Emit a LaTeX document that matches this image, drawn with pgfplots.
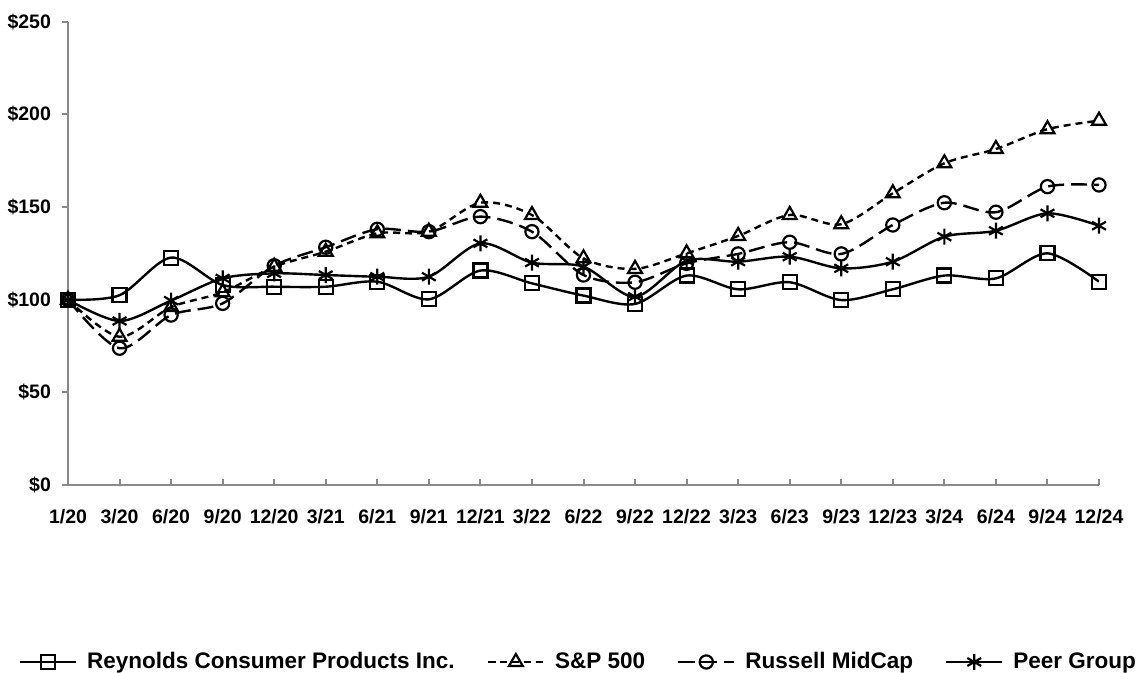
\documentclass[border=0pt]{standalone}
\usepackage{pgfplots}
\pgfplotsset{compat=1.18}
\usepackage{fontspec}
\setmainfont{Liberation Sans}
\definecolor{axgray}{RGB}{137,137,137}
\begin{document}
\begin{tikzpicture}
\useasboundingbox (-34pt,-94pt) rectangle (539pt,242.5pt);
\begin{axis}[
  at={(0pt,0pt)}, anchor=south west,
  scale only axis,
  width=515.5pt, height=231.65pt,
  xmin=0, xmax=20, ymin=0, ymax=250,
  axis x line*=bottom, axis y line*=left,
  axis line style={axgray, line width=1.3pt, -},
  xtick={0,...,20},
  xticklabels={1/20,3/20,6/20,9/20,12/20,3/21,6/21,9/21,12/21,3/22,6/22,9/22,12/22,3/23,6/23,9/23,12/23,3/24,6/24,9/24,12/24},
  ytick={0,50,100,150,200,250},
  yticklabels={\$0,\$50,\$100,\$150,\$200,\$250},
  major tick length=3pt,
  xtick align=inside, ytick align=outside,
  tick style={axgray, line width=1pt},
  tick label style={font=\fontsize{9.75}{11}\selectfont\bfseries, black},
  xticklabel style={yshift=-8.5pt},
  yticklabel style={xshift=-2pt},
  legend columns=4,
  legend style={at={(0.494,-0.382)}, anchor=center, draw=none, fill=none,
    font=\fontsize{11.25}{13}\selectfont\bfseries,
    /tikz/every even column/.append style={column sep=16pt},
    /tikz/every odd column/.append style={column sep=5pt},
    nodes={inner sep=0pt, anchor=west}},
  legend image code/.code={\draw[mark repeat=2,mark phase=2,#1] plot coordinates {(0pt,0pt)(14pt,0pt)(28pt,0pt)};},
  every axis plot/.append style={black, line width=1.2pt, smooth, tension=0.5, mark options={solid, fill=none, line width=1.1pt}},
]
\addplot[mark=square, mark size=3.5pt] coordinates {
(0,100)(1,102.4)(2,122.7)(3,107.9)(4,107)(5,107)(6,109.7)(7,100.2)(8,115.7)(9,108.8)(10,102.2)
(11,97.7)(12,113)(13,105.6)(14,109.4)(15,99.8)(16,105.6)(17,113)(18,111.5)(19,125)(20,109.7)};
\addlegendentry{Reynolds Consumer Products Inc.}
\addplot[mark=triangle, mark size=4pt, dash pattern=on 3.5pt off 2.5pt] coordinates {
(0,100)(1,80)(2,96)(3,104)(4,117.8)(5,125.9)(6,135.8)(7,136.7)(8,152.3)(9,145.7)(10,122.3)
(11,116.6)(12,125)(13,134.4)(14,145.7)(15,140.7)(16,157.4)(17,173.6)(18,181.3)(19,192)(20,196.6)};
\addlegendentry{S\&P 500}
\addplot[mark=o, mark size=3.3pt, dash pattern=on 8pt off 3.5pt] coordinates {
(0,100)(1,73.8)(2,91.7)(3,98)(4,118.3)(5,128.3)(6,138)(7,136.7)(8,144.8)(9,136.7)(10,113.3)
(11,109.4)(12,119.6)(13,124.7)(14,131)(15,124.7)(16,140.3)(17,152.3)(18,147.2)(19,161)(20,161.9)};
\addlegendentry{Russell MidCap}
\addplot[mark=asterisk, mark size=4pt] coordinates {
(0,100)(1,88.5)(2,99.5)(3,111.5)(4,114.2)(5,113.3)(6,112.4)(7,112.4)(8,130.4)(9,120)(10,117.8)
(11,101.6)(12,121)(13,120.5)(14,123.2)(15,116.9)(16,120.5)(17,134)(18,137.2)(19,146.6)(20,139.9)};
\addlegendentry{Peer Group}
\end{axis}
\end{tikzpicture}
\end{document}
